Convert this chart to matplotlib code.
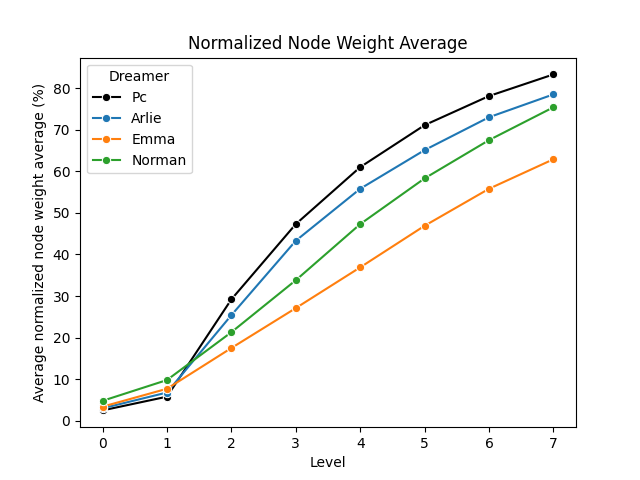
import matplotlib
matplotlib.use("Agg")
import matplotlib.pyplot as plt
import pandas as pd
import seaborn as sns

# Values
levels = [0, 1, 2, 3, 4, 5, 6, 7]
pc = [2.5, 5.8, 29.2, 47.3, 61.0, 71.1, 78.1, 83.3]
arlie = [3.0, 6.8, 25.4, 43.3, 55.8, 65.1, 73.0, 78.5]
emma = [3.4, 7.7, 17.5, 27.1, 36.9, 46.9, 55.8, 62.9]
norman = [4.8, 9.8, 21.3, 33.8, 47.3, 58.3, 67.5, 75.4]

dreamers = ["Pc", "Arlie", "Emma", "Norman"]
palette = {"Pc": "black", "Arlie": "#1f77b4", "Emma": "#ff7f0e", "Norman": "#2ca02c"}

rows = []
for name, vals in zip(dreamers, [pc, arlie, emma, norman]):
    for lvl, v in zip(levels, vals):
        rows.append({"Level": lvl, "Value": v, "Dreamer": name})
df = pd.DataFrame(rows)

fig, ax = plt.subplots(figsize=(6.4, 4.8), dpi=100)
sns.lineplot(data=df, x="Level", y="Value", hue="Dreamer", hue_order=dreamers,
             palette=palette, marker="o", ax=ax)

ax.set_title("Normalized Node Weight Average")
ax.set_xlabel("Level")
ax.set_ylabel("Average normalized node weight average (%)")
ax.set_xticks(levels)
ax.legend(title="Dreamer", loc="upper left")

fig.savefig("out.png")
